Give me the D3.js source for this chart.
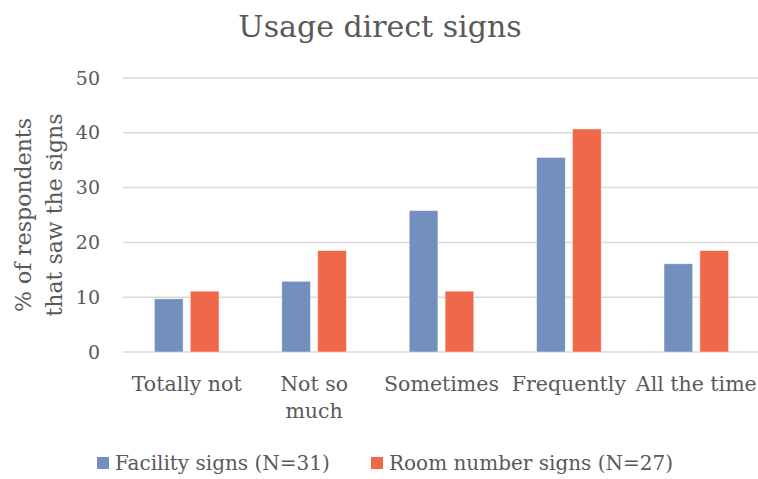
<!DOCTYPE html>
<html>
<head>
<meta charset="utf-8">
<script src="https://cdn.jsdelivr.net/npm/d3@7"></script>
<style>
  body { margin: 0; background: #fff; }
  text { font-family: "DejaVu Serif", serif; fill: #595959; }
</style>
</head>
<body>
<script>
// DATA
let categories = ["Totally not", "Not so much", "Sometimes", "Frequently", "All the time"];
let categoryLines = [["Totally not"], ["Not so", "much"], ["Sometimes"], ["Frequently"], ["All the time"]];
let seriesNames = ["Facility signs (N=31)", "Room number signs (N=27)"];
let facilityValues = [9.7, 12.9, 25.8, 35.5, 16.1];
let roomValues = [11.1, 18.5, 11.1, 40.7, 18.5];
let yTicks = [0, 10, 20, 30, 40, 50];
let colors = ["#728FBE", "#F0684A"];

let width = 758;
let height = 479;

let svg = d3.select("body").append("svg")
    .attr("width", width)
    .attr("height", height);

// title
svg.append("text")
    .attr("x", 380)
    .attr("y", 37)
    .attr("text-anchor", "middle")
    .style("font-size", "30px")
    .text("Usage direct signs");

let x0 = d3.scaleBand()
    .domain(categories)
    .range([123, 760]);

let bw = x0.bandwidth();
let x1 = d3.scaleBand()
    .domain(seriesNames)
    .range([bw / 2 - 32.3, bw / 2 + 32.3])
    .paddingInner(0.2);

let y = d3.scaleLinear()
    .domain([0, 50])
    .range([352, 78]);

// gridlines
svg.append("g")
    .selectAll("line")
    .data(yTicks)
    .join("line")
    .attr("x1", 123)
    .attr("x2", width)
    .attr("y1", d => y(d))
    .attr("y2", d => y(d))
    .attr("stroke", "#D9D9D9")
    .attr("stroke-width", 1.5);

// y tick labels
svg.append("g")
    .selectAll("text")
    .data(yTicks)
    .join("text")
    .attr("x", 100)
    .attr("y", d => y(d))
    .attr("dy", "0.35em")
    .attr("text-anchor", "end")
    .style("font-size", "19px")
    .text(d => d);

// y axis title
let yTitle = svg.append("text")
    .attr("transform", "translate(0,215) rotate(-90)")
    .attr("text-anchor", "middle")
    .style("font-size", "22px");
yTitle.append("tspan").attr("x", 0).attr("y", 31).text("% of respondents");
yTitle.append("tspan").attr("x", 0).attr("y", 62).text("that saw the signs");

// bars
let rows = categories.map((c, i) => ({ cat: c, vals: [facilityValues[i], roomValues[i]] }));

let groups = svg.append("g")
    .selectAll("g")
    .data(rows)
    .join("g")
    .attr("transform", d => "translate(" + x0(d.cat) + ",0)");

groups.selectAll("rect")
    .data(d => d.vals.map((v, j) => ({ name: seriesNames[j], v: v, j: j })))
    .join("rect")
    .attr("x", d => x1(d.name))
    .attr("width", x1.bandwidth())
    .attr("y", d => y(d.v))
    .attr("height", d => y(0) - y(d.v))
    .attr("fill", d => colors[d.j])
    .attr("stroke", "#fff")
    .attr("stroke-opacity", 0.6)
    .attr("stroke-width", 0.75);

// category labels
let catLabels = svg.append("g")
    .selectAll("text")
    .data(categories)
    .join("text")
    .attr("text-anchor", "middle")
    .style("font-size", "20.5px");

catLabels.each(function (c, i) {
    let t = d3.select(this);
    categoryLines[i].forEach((line, k) => {
        t.append("tspan")
            .attr("x", x0(c) + bw / 2)
            .attr("y", 391 + k * 27)
            .text(line);
    });
});

// legend
let legendX = [97, 371];
let legend = svg.append("g")
    .selectAll("g")
    .data(seriesNames)
    .join("g")
    .attr("transform", (d, i) => "translate(" + legendX[i] + ",457)");

legend.append("rect")
    .attr("width", 12)
    .attr("height", 12)
    .attr("fill", (d, i) => colors[i]);

legend.append("text")
    .attr("x", 18)
    .attr("y", 13)
    .style("font-size", "20px")
    .text(d => d);
</script>
</body>
</html>
